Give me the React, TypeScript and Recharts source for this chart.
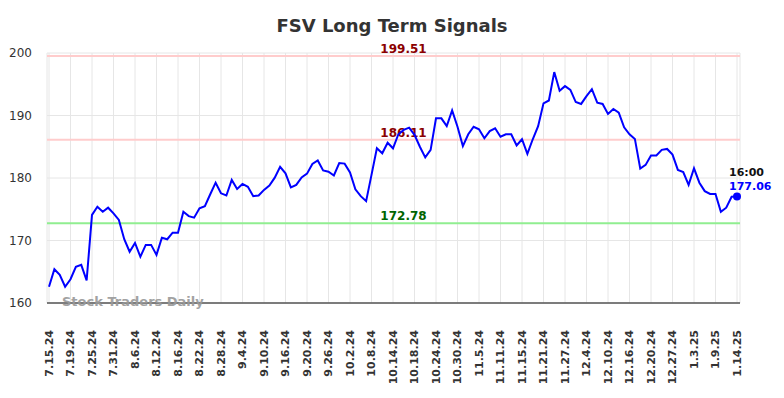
import { LineChart, Line, XAxis, YAxis, CartesianGrid, ReferenceLine } from "recharts";

const TICK_LABELS = [
  "7.15.24", "7.19.24", "7.25.24", "7.31.24", "8.6.24", "8.12.24", "8.16.24",
  "8.22.24", "8.28.24", "9.4.24", "9.10.24", "9.16.24", "9.20.24", "9.26.24",
  "10.2.24", "10.8.24", "10.14.24", "10.18.24", "10.24.24", "10.30.24", "11.5.24",
  "11.11.24", "11.15.24", "11.21.24", "11.27.24", "12.4.24", "12.10.24", "12.16.24",
  "12.20.24", "12.27.24", "1.3.25", "1.9.25", "1.14.25",
];

// daily closes, one per trading day (7.15.24 .. 1.14.25)
const PRICES = [
  162.6, 165.4, 164.5, 162.6, 163.8, 165.8, 166.1, 163.6, 174.1, 175.4,
  174.6, 175.25, 174.35, 173.3, 170.2, 168.2, 169.6, 167.4, 169.3, 169.3,
  167.7, 170.45, 170.2, 171.25, 171.25, 174.6, 173.9, 173.65, 175.15, 175.5,
  177.4, 179.25, 177.55, 177.2, 179.7, 178.25, 179.05, 178.6, 177.1, 177.2,
  178.1, 178.8, 180.05, 181.8, 180.75, 178.5, 178.9, 180.1, 180.7, 182.25,
  182.8, 181.2, 181.0, 180.4, 182.4, 182.3, 180.9, 178.2, 177.1, 176.3,
  180.5, 184.75, 183.95, 185.65, 184.75, 187.0, 187.7, 188.05, 186.9, 185.0,
  183.3, 184.5, 189.55, 189.55, 188.3, 190.8, 188.2, 185.1, 187.0, 188.2,
  187.8, 186.35, 187.5, 187.95, 186.6, 187.0, 187.0, 185.2, 186.2, 183.85,
  186.2, 188.3, 191.95, 192.4, 196.95, 193.95, 194.7, 194.1, 192.15, 191.85,
  193.1, 194.2, 192.05, 191.85, 190.25, 191.05, 190.45, 188.1, 187.0, 186.25,
  181.5, 182.1, 183.6, 183.6, 184.5, 184.65, 183.75, 181.3, 180.95, 178.9,
  181.55, 179.25, 177.9, 177.45, 177.45, 174.6, 175.25, 177.0, 177.06,
];

const TICK_STEP = 4;
const LEVELS = [
  { value: 199.51, color: "#ffcccc", text: "#8b0000" },
  { value: 186.11, color: "#ffcccc", text: "#8b0000" },
  { value: 172.78, color: "#90ee90", text: "#006400" },
];
const LAST_TIME = "16:00";

const data = PRICES.map((p, i) => ({ i, price: p }));
const xTicks = TICK_LABELS.map((_, k) => k * TICK_STEP);

const FONT = "'DejaVu Sans', sans-serif";

function XTick(props: any) {
  const { x, y, payload } = props;
  const label = TICK_LABELS[payload.value / TICK_STEP] ?? "";
  return (
    <g transform={`translate(${x},${y})`}>
      <text
        transform="rotate(-90)"
        x={-19}
        y={0}
        dy="0.35em"
        textAnchor="end"
        fontSize={11}
        fontWeight="bold"
        fill="#333"
        fontFamily={FONT}
      >
        {label}
      </text>
    </g>
  );
}

function LevelLabel(props: any) {
  const { viewBox, value, fill } = props;
  const cx = viewBox.x + viewBox.width / 2 + 10;
  return (
    <text x={cx} y={viewBox.y - 3} textAnchor="middle" fontSize={12} fontWeight="bold" fill={fill} fontFamily={FONT}>
      {value.toFixed(2)}
    </text>
  );
}

function LastDot(props: any) {
  const { cx, cy, index } = props;
  if (index !== PRICES.length - 1) return <g key={index} />;
  return (
    <g key={index}>
      <circle cx={cx} cy={cy} r={4} fill="#0000ff" />
      <text x={cx - 8} y={cy - 20} fontSize={11} fontWeight="bold" fill="#111" fontFamily={FONT}>
        {LAST_TIME}
      </text>
      <text x={cx - 8} y={cy - 6} fontSize={11} fontWeight="bold" fill="#0000ff" fontFamily={FONT}>
        {PRICES[PRICES.length - 1].toFixed(2)}
      </text>
    </g>
  );
}

export default function App() {
  return (
    <div style={{ position: "fixed", left: 0, top: 0, width: 784, height: 398, background: "#fff", fontFamily: FONT }}>
      <div
        style={{
          position: "absolute",
          top: 15,
          left: 0,
          width: 784,
          textAlign: "center",
          fontSize: 18,
          fontWeight: "bold",
          color: "#333",
        }}
      >
        FSV Long Term Signals
      </div>
      <LineChart width={784} height={398} data={data} margin={{ top: 53, right: 44, bottom: 0, left: 0 }}>
        <CartesianGrid stroke="#e6e6e6" strokeWidth={1} />
        <XAxis
          dataKey="i"
          type="number"
          domain={[0, PRICES.length - 1]}
          ticks={xTicks}
          interval={0}
          padding={{ left: 2, right: 3 }}
          height={95}
          tickLine={false}
          axisLine={{ stroke: "#555", strokeWidth: 1.5 }}
          tick={<XTick />}
        />
        <YAxis
          domain={[160, 200]}
          ticks={[160, 170, 180, 190, 200]}
          width={47}
          axisLine={false}
          tickLine={false}
          tickSize={0}
          tickMargin={15}
          tick={{ fontSize: 12, fill: "#333", fontFamily: FONT }}
        />
        {LEVELS.map((l) => (
          <ReferenceLine
            key={l.value}
            y={l.value}
            stroke={l.color}
            strokeWidth={2}
            label={<LevelLabel value={l.value} fill={l.text} />}
          />
        ))}
        <Line
          type="linear"
          dataKey="price"
          stroke="#0000ff"
          strokeWidth={2}
          dot={<LastDot />}
          activeDot={false}
          isAnimationActive={false}
        />
      </LineChart>
      <div
        style={{
          position: "absolute",
          left: 62,
          top: 294,
          fontSize: 13,
          fontWeight: "bold",
          color: "#999",
          opacity: 0.9,
        }}
      >
        Stock Traders Daily
      </div>
    </div>
  );
}
